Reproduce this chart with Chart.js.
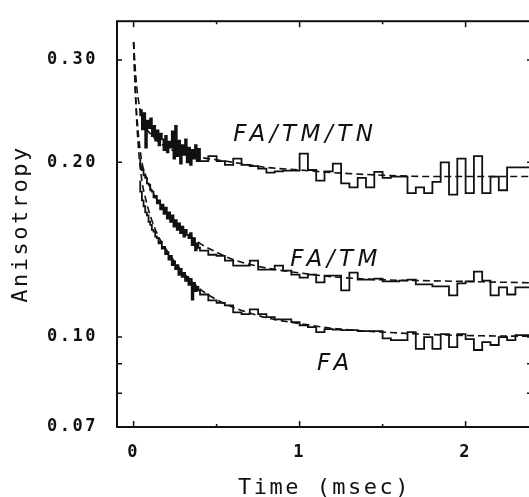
<!DOCTYPE html>
<html>
<head>
<meta charset="utf-8">
<script src="https://cdn.jsdelivr.net/npm/chart.js@4/dist/chart.umd.min.js"></script>
<style>
html, body { margin: 0; padding: 0; background: #fff; overflow: hidden; }
</style>
</head>
<body>
<canvas id="c" width="534" height="497"></canvas>
<script>
// time axis (msec) of the dense early part and of the 0.05 msec steps
var noisyTime = [0.04,0.05,0.06,0.07,0.08,0.09,0.10,0.11,0.12,0.13,0.14,0.15,0.16,0.17,0.18,0.19,0.20,0.21,
                 0.22,0.23,0.24,0.25,0.26,0.27,0.28,0.29,0.30,0.31,0.32,0.33,0.34,0.35,0.36,0.37,0.38,0.39];
var stepTime = [0.40,0.45,0.50,0.55,0.60,0.65,0.70,0.75,0.80,0.85,0.90,0.95,1.00,1.05,1.10,1.15,1.20,1.25,1.30,1.35,
                1.40,1.45,1.50,1.55,1.60,1.65,1.70,1.75,1.80,1.85,1.90,1.95,2.00,2.05,2.10,2.15,2.20,2.25,2.30,2.35,2.40];

// FA/TM/TN
var tnNoisy = [0.240,0.246,0.228,0.243,0.212,0.236,0.229,0.238,0.222,0.231,0.218,0.227,0.214,0.224,0.219,0.210,0.222,0.208,
               0.217,0.212,0.226,0.203,0.231,0.205,0.218,0.199,0.214,0.206,0.219,0.200,0.212,0.198,0.210,0.203,0.214,0.201];
var tnSteps = [0.211,0.201,0.205,0.201,0.198,0.203,0.198,0.197,0.195,0.192,0.193,0.1935,0.1935,0.207,0.194,0.186,0.193,0.199,0.184,0.181,
               0.188,0.181,0.1925,0.188,0.189,0.189,0.177,0.181,0.177,0.185,0.200,0.176,0.203,0.177,0.205,0.177,0.189,0.179,0.196,0.196,0.196];
// FA/TM
var tmNoisy = [0.203,0.197,0.194,0.190,0.188,0.184,0.183,0.179,0.178,0.174,0.175,0.170,0.172,0.166,0.169,0.163,0.167,0.160,
               0.164,0.158,0.162,0.155,0.159,0.153,0.157,0.151,0.155,0.149,0.153,0.150,0.148,0.151,0.144,0.148,0.141,0.145];
var tmSteps = [0.1425,0.1409,0.1386,0.1380,0.1354,0.1328,0.1328,0.1354,0.1307,0.1307,0.1328,0.1302,0.1281,0.1266,0.1281,0.1242,0.1276,0.1276,0.1203,0.1291,
               0.1256,0.1256,0.1261,0.1247,0.1247,0.1251,0.1256,0.1232,0.1232,0.1223,0.1223,0.1180,0.1237,0.1247,0.1296,0.1251,0.1180,0.1218,0.1184,0.1218,0.1218];
// FA
var faNoisy = [0.186,0.178,0.172,0.168,0.164,0.162,0.158,0.156,0.153,0.152,0.149,0.148,0.145,0.146,0.142,0.143,0.139,0.140,
               0.136,0.138,0.133,0.135,0.131,0.133,0.128,0.131,0.127,0.129,0.125,0.127,0.123,0.126,0.116,0.124,0.120,0.122];
var faSteps = [0.1203,0.1184,0.1157,0.1145,0.1134,0.1103,0.1095,0.1116,0.1095,0.1082,0.1073,0.1073,0.1061,0.1048,0.1040,0.1020,0.1032,0.1030,0.1028,0.1028,
               0.1024,0.1024,0.1024,0.0995,0.0988,0.0988,0.1020,0.0954,0.1000,0.0954,0.1012,0.0961,0.1012,0.0992,0.0950,0.0980,0.0969,0.1000,0.0988,0.1008,0.1008];

// fitted curves (dashed)
var fitTime = [0,0.01,0.02,0.03,0.05,0.075,0.1,0.15,0.2,0.3,0.4,0.5,0.6,0.8,1.0,1.2,1.5,1.8,2.1,2.4];
var tnFit = [0.322,0.290,0.268,0.255,0.238,0.229,0.224,0.217,0.212,0.207,0.204,0.202,0.200,0.196,0.194,0.192,0.190,0.189,0.189,0.189];
var tmFit = [0.322,0.270,0.240,0.222,0.200,0.189,0.181,0.171,0.164,0.153,0.145,0.140,0.136,0.1315,0.129,0.127,0.1255,0.125,0.1245,0.124];
var faFit = [0.322,0.265,0.232,0.210,0.186,0.172,0.162,0.149,0.141,0.129,0.121,0.116,0.1125,0.108,0.1055,0.1035,0.102,0.101,0.1005,0.1003];

var xTicks = [0, 0.5, 1, 1.5, 2];
var yTicks = [0.07, 0.08, 0.09, 0.1, 0.2, 0.3];
var yLabeled = [0.07, 0.1, 0.2, 0.3];

var curveLabels = [
  {text: 'FA/TM/TN', x: 0.60, y: 0.218},
  {text: 'FA/TM', x: 0.943, y: 0.1323},
  {text: 'FA', x: 1.105, y: 0.0878}
];

function pts(xs, ys) {
  var out = [];
  for (var i = 0; i < xs.length; i++) out.push({x: xs[i], y: ys[i]});
  return out;
}

function dataSet(noisy, steps) {
  return {
    data: pts(noisyTime, noisy).concat(pts(stepTime, steps)),
    borderColor: '#111', borderWidth: 1.8, stepped: 'after', pointRadius: 0, fill: false
  };
}
function fitSet(ys) {
  return {
    data: pts(fitTime, ys),
    borderColor: '#111', borderWidth: 1.6, borderDash: [7, 4], pointRadius: 0,
    cubicInterpolationMode: 'monotone', fill: false
  };
}

var mono = '"DejaVu Sans Mono", "Liberation Mono", monospace';

var framePlugin = {
  id: 'frame',
  beforeDraw: function(chart) {
    var ctx = chart.ctx;
    ctx.save();
    ctx.fillStyle = '#fff';
    ctx.fillRect(0, 0, chart.width, chart.height);
    ctx.restore();
    ctx.letterSpacing = '2.5px';
  },
  afterDraw: function(chart) {
    var ctx = chart.ctx, a = chart.chartArea;
    var xs = chart.scales.x, ys = chart.scales.y;
    ctx.save();
    ctx.letterSpacing = '0px';
    ctx.strokeStyle = '#111';
    ctx.lineWidth = 2;
    ctx.strokeRect(a.left, a.top, a.right - a.left, a.bottom - a.top);
    ctx.lineWidth = 1.5;
    ctx.beginPath();
    xTicks.forEach(function(v) {
      var px = xs.getPixelForValue(v);
      var len = Number.isInteger(v) ? 6 : 3;
      ctx.moveTo(px, a.bottom); ctx.lineTo(px, a.bottom - len);
      ctx.moveTo(px, a.top); ctx.lineTo(px, a.top + len);
    });
    yTicks.forEach(function(v) {
      if (v === 0.07) return;
      var py = ys.getPixelForValue(v);
      ctx.moveTo(a.left, py); ctx.lineTo(a.left + 5, py);
      ctx.moveTo(a.right, py); ctx.lineTo(a.right - 5, py);
    });
    ctx.stroke();

    ctx.fillStyle = '#111';
    ctx.font = 'italic 23px "DejaVu Sans", sans-serif';
    ctx.letterSpacing = '4.5px';
    ctx.textAlign = 'left';
    ctx.textBaseline = 'alphabetic';
    curveLabels.forEach(function(l) {
      ctx.fillText(l.text, xs.getPixelForValue(l.x), ys.getPixelForValue(l.y));
    });
    ctx.restore();
  }
};

new Chart(document.getElementById('c'), {
  type: 'line',
  data: {
    datasets: [
      dataSet(tnNoisy, tnSteps), dataSet(tmNoisy, tmSteps), dataSet(faNoisy, faSteps),
      fitSet(tnFit), fitSet(tmFit), fitSet(faFit)
    ]
  },
  options: {
    responsive: false,
    animation: false,
    layout: { padding: { top: 16, right: 2, left: 0, bottom: 0 } },
    plugins: { legend: { display: false }, tooltip: { enabled: false } },
    scales: {
      x: {
        type: 'linear', min: -0.1, max: 2.4,
        grid: { display: false }, border: { display: false },
        afterBuildTicks: function(s) { s.ticks = xTicks.map(function(v) { return {value: v}; }); },
        afterFit: function(s) { s.height = 70; },
        ticks: {
          color: '#111', font: { family: mono, size: 17, weight: 'bold' }, padding: 7, maxRotation: 0, autoSkip: false,
          callback: function(v) { return Number.isInteger(v) ? String(v) : ''; }
        },
        title: {
          display: true, text: 'Time (msec)', color: '#111',
          font: { family: mono, size: 22, lineHeight: 0.8 }, padding: { top: 0, bottom: 0 }
        }
      },
      y: {
        type: 'logarithmic', min: 0.07, max: 0.35,
        grid: { display: false }, border: { display: false },
        afterBuildTicks: function(s) { s.ticks = yTicks.map(function(v) { return {value: v}; }); },
        afterFit: function(s) { s.width = 117; },
        ticks: {
          color: '#111', font: { family: mono, size: 17, weight: 'bold' }, padding: 11, autoSkip: false,
          callback: function(v) { return yLabeled.indexOf(v) >= 0 ? v.toFixed(2) : ''; }
        },
        title: {
          display: true, text: 'Anisotropy', color: '#111',
          font: { family: mono, size: 22, lineHeight: 1.2 }, padding: { top: 8, bottom: 0 }
        }
      }
    }
  },
  plugins: [framePlugin]
});
</script>
</body>
</html>
